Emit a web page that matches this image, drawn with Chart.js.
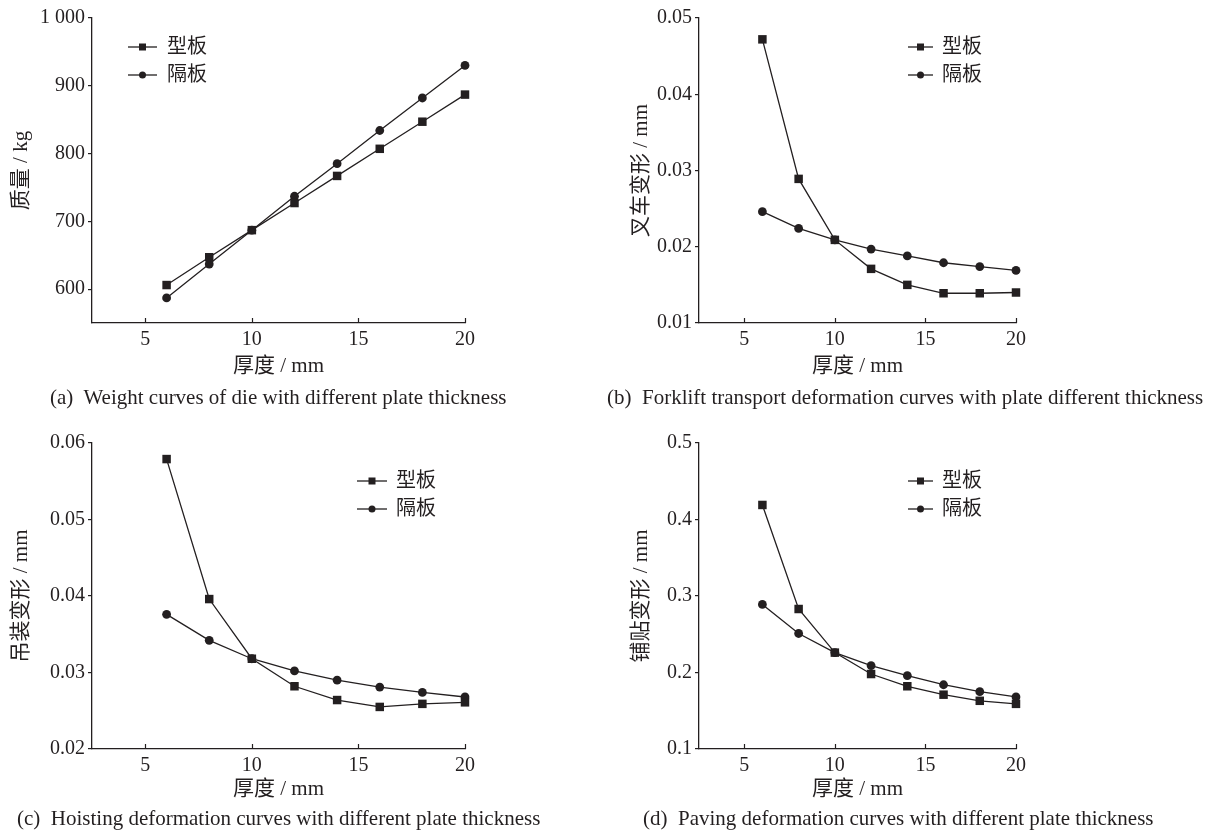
<!DOCTYPE html>
<html>
<head>
<meta charset="utf-8">
<script src="https://cdn.jsdelivr.net/npm/chart.js@4/dist/chart.umd.min.js"></script>
<style>
  body { margin: 0; background: #fff; width: 1217px; height: 833px; position: relative; overflow: hidden; }
  canvas { position: absolute; }
  .cap { position: absolute; font: 21px 'Liberation Serif', 'Times New Roman', serif; color: #231f20; white-space: pre; line-height: 22px; }
</style>
</head>
<body>
<canvas id="pa"></canvas>
<canvas id="pb"></canvas>
<canvas id="pc"></canvas>
<canvas id="pd"></canvas>
<div class="cap" style="left:50px;top:386px">(a)  Weight curves of die with different plate thickness</div>
<div class="cap" style="left:607px;top:386px">(b)  Forklift transport deformation curves with plate different thickness</div>
<div class="cap" style="left:17px;top:807px">(c)  Hoisting deformation curves with different plate thickness</div>
<div class="cap" style="left:643px;top:807px">(d)  Paving deformation curves with different plate thickness</div>
<script>
// Plate thickness (mm) and shared x-axis ticks
const thickness = [6, 8, 10, 12, 14, 16, 18, 20];
const xTickValues = [5, 10, 15, 20];
const seriesNames = ['型板', '隔板'];

// (a) mass, kg
const weightTemplate  = [606, 647, 687, 727, 767, 807, 847, 887];
const weightPartition = [587, 637, 687, 737, 785, 834, 882, 930];
const weightTicks = [600, 700, 800, 900, 1000];
const weightTickLabels = ['600', '700', '800', '900', '1 000'];

// (b) forklift transport deformation, mm
const forkTemplate  = [0.0472, 0.0289, 0.0209, 0.0171, 0.0150, 0.0139, 0.0139, 0.0140];
const forkPartition = [0.0246, 0.0224, 0.0209, 0.0197, 0.0188, 0.0179, 0.0174, 0.0169];
const forkTicks = [0.01, 0.02, 0.03, 0.04, 0.05];
const forkTickLabels = ['0.01', '0.02', '0.03', '0.04', '0.05'];

// (c) hoisting deformation, mm
const hoistTemplate  = [0.0579, 0.0396, 0.0318, 0.0282, 0.0264, 0.0255, 0.0259, 0.0261];
const hoistPartition = [0.0376, 0.0342, 0.0318, 0.0302, 0.0290, 0.0281, 0.0274, 0.0268];
const hoistTicks = [0.02, 0.03, 0.04, 0.05, 0.06];
const hoistTickLabels = ['0.02', '0.03', '0.04', '0.05', '0.06'];

// (d) paving deformation, mm
const paveTemplate  = [0.419, 0.283, 0.226, 0.198, 0.182, 0.171, 0.163, 0.159];
const pavePartition = [0.289, 0.251, 0.226, 0.209, 0.196, 0.184, 0.175, 0.168];
const paveTicks = [0.1, 0.2, 0.3, 0.4, 0.5];
const paveTickLabels = ['0.1', '0.2', '0.3', '0.4', '0.5'];

const INK = '#231f20';
const SERIF = "'Liberation Serif', 'Times New Roman', serif";
const TITLE_FONT = "'Liberation Serif', 'Noto Sans CJK SC', serif";
const TITLE_SIZE = 21;

// Short x tick marks pointing into the plot area
const innerTicks = {
  id: 'innerTicks',
  afterDraw(chart) {
    const ctx = chart.ctx, xs = chart.scales.x, b = chart.chartArea.bottom;
    ctx.save();
    ctx.strokeStyle = INK; ctx.lineWidth = 1.2;
    xTickValues.forEach(v => {
      const px = Math.round(xs.getPixelForValue(v)) + 0.5;
      ctx.beginPath(); ctx.moveTo(px, b); ctx.lineTo(px, b - 5); ctx.stroke();
    });
    ctx.restore();
  }
};

// Legend drawn inside the plot: line segment with marker, then the name
const lineLegend = {
  id: 'lineLegend',
  afterDraw(chart, args, opts) {
    const ctx = chart.ctx;
    ctx.save();
    chart.data.datasets.forEach((ds, i) => {
      const y = opts.rows[i];
      ctx.strokeStyle = INK; ctx.lineWidth = 1.3;
      ctx.beginPath(); ctx.moveTo(opts.x1, y); ctx.lineTo(opts.x2, y); ctx.stroke();
      const cx = (opts.x1 + opts.x2) / 2;
      ctx.fillStyle = INK;
      if (ds.pointStyle === 'rect') {
        ctx.fillRect(cx - 3.5, y - 3.5, 7, 7);
      } else {
        ctx.beginPath(); ctx.arc(cx, y, 3.5, 0, Math.PI * 2); ctx.fill();
      }
      ctx.font = "20px " + TITLE_FONT;
      ctx.textBaseline = 'middle'; ctx.textAlign = 'left';
      ctx.fillText(ds.label, opts.tx, y + 1);
    });
    ctx.restore();
  }
};

function makePanel(id, g, template, partition, yMin, yMax, yTicks, yLabels, yTitle) {
  const cv = document.getElementById(id);
  cv.width = g.w; cv.height = g.h;
  cv.style.left = g.left + 'px'; cv.style.top = g.top + 'px';
  const lh = TITLE_SIZE * 1.2;
  new Chart(cv, {
    type: 'line',
    data: {
      datasets: [
        { label: seriesNames[0], data: thickness.map((x, i) => ({ x, y: template[i] })),
          pointStyle: 'rect', pointRadius: 6, borderColor: INK, backgroundColor: INK,
          pointBackgroundColor: INK, pointBorderColor: INK, pointBorderWidth: 0, borderWidth: 1.3, clip: false },
        { label: seriesNames[1], data: thickness.map((x, i) => ({ x, y: partition[i] })),
          pointStyle: 'circle', pointRadius: 4.4, borderColor: INK, backgroundColor: INK,
          pointBackgroundColor: INK, pointBorderColor: INK, pointBorderWidth: 0, borderWidth: 1.3, clip: false }
      ]
    },
    options: {
      responsive: false, animation: false, devicePixelRatio: 1,
      layout: { padding: { left: 0, top: g.T - g.top, right: g.left + g.w - g.R, bottom: 0 } },
      plugins: {
        legend: { display: false }, tooltip: { enabled: false },
        lineLegend: { x1: g.lx1 - g.left, x2: g.lx2 - g.left, tx: g.ltx - g.left, rows: g.lrows.map(r => r - g.top) }
      },
      scales: {
        x: {
          type: 'linear', min: 2.5, max: 20,
          afterBuildTicks: s => { s.ticks = xTickValues.map(v => ({ value: v })); },
          afterFit: s => { s.height = g.top + g.h - g.B; },
          grid: { display: false },
          border: { display: true, color: INK, width: 1.3 },
          ticks: { color: INK, padding: -3, font: { family: SERIF, size: 20 }, callback: v => String(v) },
          title: { display: true, text: '厚度 / mm', color: INK,
                   font: { family: TITLE_FONT, size: TITLE_SIZE }, padding: { bottom: g.top + g.h - lh / 2 - g.xTitleY, top: 0 } }
        },
        y: {
          type: 'linear', min: yMin, max: yMax,
          afterBuildTicks: s => { s.ticks = yTicks.map(v => ({ value: v })); },
          afterFit: s => { s.width = g.L - g.left; },
          grid: { display: true, drawOnChartArea: false, drawTicks: true, tickLength: 4, color: INK, lineWidth: 1.2 },
          border: { display: true, color: INK, width: 1.3 },
          ticks: { color: INK, padding: 3, font: { family: SERIF, size: 20 }, callback: (v, i) => yLabels[i] },
          title: { display: true, text: yTitle, color: INK,
                   font: { family: TITLE_FONT, size: TITLE_SIZE }, padding: { top: g.yTitleX - g.left - lh / 2, bottom: 0 } }
        }
      }
    },
    plugins: [innerTicks, lineLegend]
  });
}

const leftTop  = { left: 0,   top: 0,   w: 500, h: 385, L: 92,  R: 465,  T: 18,  B: 323, yTitleX: 21,  xTitleY: 366, lx1: 128, lx2: 157, ltx: 167, lrows: [47, 75] };
const rightTop = { left: 600, top: 0,   w: 617, h: 385, L: 699, R: 1016, T: 18,  B: 323, yTitleX: 641, xTitleY: 366, lx1: 908, lx2: 933, ltx: 942, lrows: [47, 75] };
const leftBot  = { left: 0,   top: 400, w: 500, h: 425, L: 92,  R: 465,  T: 443, B: 749, yTitleX: 21,  xTitleY: 789, lx1: 357, lx2: 387, ltx: 396, lrows: [481, 509] };
const rightBot = { left: 600, top: 400, w: 617, h: 425, L: 699, R: 1016, T: 443, B: 749, yTitleX: 641, xTitleY: 789, lx1: 908, lx2: 933, ltx: 942, lrows: [481, 509] };

makePanel('pa', leftTop,  weightTemplate, weightPartition, 550, 1000, weightTicks, weightTickLabels, '质量 / kg');
makePanel('pb', rightTop, forkTemplate,   forkPartition,   0.01, 0.05, forkTicks, forkTickLabels, '叉车变形 / mm');
makePanel('pc', leftBot,  hoistTemplate,  hoistPartition,  0.02, 0.06, hoistTicks, hoistTickLabels, '吊装变形 / mm');
makePanel('pd', rightBot, paveTemplate,   pavePartition,   0.1, 0.5,   paveTicks, paveTickLabels, '铺贴变形 / mm');
</script>
</body>
</html>
